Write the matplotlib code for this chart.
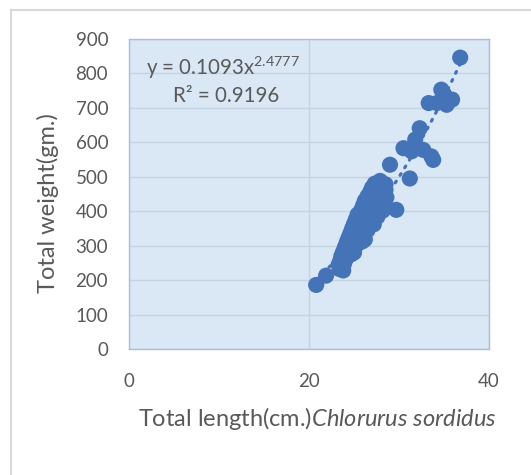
import numpy as np
import matplotlib
matplotlib.use("Agg")
import matplotlib.pyplot as plt
from matplotlib.lines import Line2D

plt.rcParams['font.family'] = ['Lato', 'DejaVu Sans']
plt.rcParams['mathtext.fontset'] = 'custom'
plt.rcParams['mathtext.rm'] = 'Lato'
plt.rcParams['mathtext.it'] = 'Lato:italic'
plt.rcParams['mathtext.default'] = 'regular'

# total length (cm) and total weight (g) of Chlorurus sordidus
length_cm = [
    20.8, 21.9,
    23.4, 23.8,
    23.3, 23.9,
    23.5, 24.1,
    23.6, 24.2, 24.7,
    23.8, 24.4, 25.0,
    24.0, 24.6, 25.2,
    24.2, 24.8, 25.4, 25.9,
    24.4, 25.0, 25.6, 26.2,
    24.6, 25.2, 25.8, 26.5,
    24.8, 25.4, 26.0, 26.7,
    25.0, 25.6, 26.2, 26.8, 27.2,
    25.2, 25.8, 26.4, 27.0, 27.6,
    25.4, 26.1, 26.7, 27.3, 27.9,
    25.8, 26.4, 27.0, 27.6, 28.2,
    26.0, 26.6, 27.2, 27.8, 28.4,
    26.2, 26.8, 27.4, 28.0, 28.6,
    26.5, 27.1, 27.7, 28.3,
    26.8, 27.4, 28.0, 28.5,
    27.0, 27.6, 28.2,
    27.3, 27.9, 28.5,
    29.0, 29.7, 31.2, 30.5, 31.4, 31.8, 32.3, 32.7, 33.6, 33.8,
    33.3, 34.2, 34.7, 35.3, 35.9, 35.0, 36.8,
]
weight_g = [
    186, 213,
    232, 228,
    245, 248,
    258, 262,
    270, 268, 275,
    283, 286, 280,
    296, 292, 300,
    310, 314, 306, 312,
    323, 326, 320, 318,
    336, 333, 340, 345,
    350, 352, 348, 356,
    363, 360, 366, 370, 362,
    376, 378, 372, 380, 384,
    390, 394, 386, 392, 398,
    403, 406, 400, 408, 402,
    416, 420, 412, 418, 424,
    430, 434, 428, 436, 440,
    443, 448, 440, 452,
    456, 460, 454, 462,
    468, 474, 466,
    480, 488, 478,
    535, 404, 495, 583, 574, 608, 641, 578, 559, 549,
    714, 714, 753, 709, 724, 740, 846,
]

# power trendline reported on the chart
coef_a = 0.1093
coef_b = 2.4777
r_squared = 0.9196

blue = '#4473B8'
grey_text = '#595959'

fig = plt.figure(figsize=(5.31, 4.75), dpi=100)
W, H = 531, 475

# outer chart border (top and left visible)
fig.add_artist(Line2D([11 / W, 11 / W], [0, 1 - 10 / H], color='#d9d9d9', lw=1.5))
fig.add_artist(Line2D([11 / W, 1], [1 - 10 / H, 1 - 10 / H], color='#d9d9d9', lw=1.5))

ax = fig.add_axes([129 / W, 1 - 349 / H, 360 / W, 310 / H])
ax.set_facecolor('#dae8f5')
ax.set_xlim(0, 40)
ax.set_ylim(0, 900)
ax.set_xticks([0, 20, 40])
ax.set_yticks(np.arange(0, 901, 100))
ax.grid(True, color='#c5d3e2', lw=1)
ax.set_axisbelow(True)
for s in ax.spines.values():
    s.set_color('#a9c0da')
    s.set_linewidth(1)
ax.tick_params(length=0, labelsize=13.5, colors=grey_text)
ax.tick_params(axis='y', pad=15)
ax.tick_params(axis='x', pad=17)

ax.scatter(length_cm, weight_g, s=135, color=blue, edgecolors='none', zorder=3)

xs = np.linspace(min(length_cm), max(length_cm), 200)
ax.plot(xs, coef_a * xs ** coef_b, color=blue, lw=2.3,
        linestyle=(0, (0.6, 2.2)), dash_capstyle='round', zorder=2)

fig.text(223 / W, 1 - 68 / H, r'y = %.4fx$^{%.4f}$' % (coef_a, coef_b),
         ha='center', va='center', fontsize=14.8, color=grey_text)
fig.text(226 / W, 1 - 96 / H, 'R² = %.4f' % r_squared,
         ha='center', va='center', fontsize=14.8, color=grey_text)

fig.text(48 / W, 1 - 203 / H, 'Total weight(gm.)', rotation=90,
         ha='center', va='center', fontsize=17, color=grey_text)
fig.text(317 / W, 1 - 418 / H, r'Total length(cm.)$\mathit{Chlorurus\ sordidus}$',
         ha='center', va='center', fontsize=17, color=grey_text)

fig.savefig('out.png', dpi=100, facecolor='white')
